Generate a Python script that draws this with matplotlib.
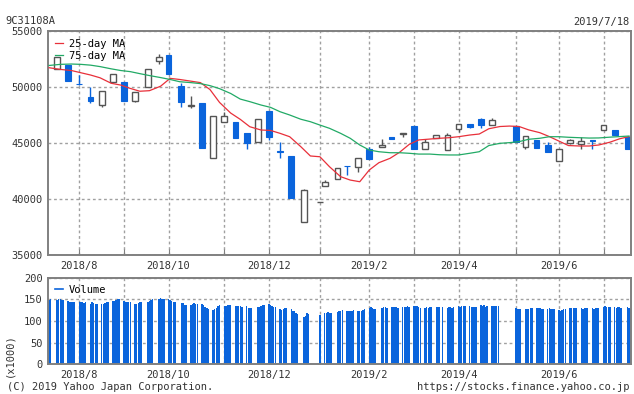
#import modules
import pandas as pd
import numpy as np
import matplotlib
matplotlib.use('Agg')
import matplotlib.pyplot as plt
import matplotlib.dates as mdates
from matplotlib.lines import Line2D

#set the font (narrow mono font like the original)
plt.rcParams['font.family'] = 'DejaVu Sans Mono'
plt.rcParams['font.size'] = 7.5

#market holidays (no trading, no bars)
holidays = ['2018-09-17', '2018-09-24', '2018-10-08', '2018-11-23', '2018-12-24',
            '2018-12-31', '2019-01-01', '2019-01-02', '2019-01-03', '2019-01-14',
            '2019-02-11', '2019-03-21', '2019-04-29', '2019-04-30', '2019-05-01',
            '2019-05-02', '2019-05-03', '2019-05-06', '2019-07-15']

#daily volume (x1000), one row per week
volume_weeks = [
    [149, 150],
    [148, 150, 150, 149, 148], [147, 145, 143, 143, 143], [143, 143, 143, 142, 143],
    [140, 143, 141, 140, 140], [139, 140, 141, 143, 145], [147, 147, 148, 150, 150],
    [147, 145, 144, 143, 143], [140, 140, 141, 143, 143], [145, 147, 149, 150],
    [151, 153, 150, 150], [150, 149, 147, 145, 144], [142, 142, 137, 137],
    [137, 139, 141, 139, 139], [139, 137, 133, 130, 128], [126, 128, 131, 135, 137],
    [135, 135, 136, 137, 137], [135, 135, 135, 134, 133], [134, 131, 131, 131],
    [133, 133, 135, 137, 137], [139, 137, 135, 133, 133], [128, 126, 128, 131, 130],
    [128, 123, 122, 119, 116], [110, 112, 118, 116], [114],
    [119, 118, 120, 119, 119], [121, 123, 123, 126], [124, 122, 122, 124, 126],
    [124, 124, 123, 126, 128], [131, 132, 130, 128, 127], [131, 132, 132, 130],
    [132, 132, 132, 132, 131], [132, 132, 132, 134, 133], [135, 135, 134, 133, 131],
    [131, 132, 131, 133, 133], [133, 133, 133, 133], [131, 133, 133, 131, 132],
    [134, 133, 134, 135, 135], [135, 133, 133, 133, 133], [138, 135, 138, 133, 135],
    [135, 135, 135, 135, 135], [131, 128, 127, 127], [127, 127, 128, 129, 130],
    [130, 129, 129, 127, 127], [128, 129, 128, 127, 127], [126, 124, 125, 127, 128],
    [129, 129, 129, 129, 129], [129, 127, 129, 129, 129], [129, 128, 129, 129, 129],
    [133, 134, 132, 132, 132], [132, 130, 132, 132, 131], [132, 130, 128],
]

#weekly candles (from week of 2018/7/23)
opens = np.array([51600, 52000, 50320, 49100, 48400, 50450, 50450, 48800, 50050, 52320,
                  52880, 50120, 48330, 48620, 43710, 46930, 46900, 45920, 45140, 47880,
                  44300, 43870, 37950, 39730, 41210, 41840, 42970, 42860, 44520, 44640,
                  45540, 45810, 46540, 44520, 45470, 44430, 46300, 46720, 47140, 46610,
                  46540, 44700, 45270, 44820, 43450, 45050, 44960, 45270, 46160, 46160,
                  45560])
highs = np.array([52680, 52000, 51100, 50000, 49670, 51190, 50450, 49600, 51600, 52970,
                  52880, 50410, 49220, 48620, 47440, 47820, 46900, 45920, 47170, 47880,
                  45090, 43870, 40920, 39730, 41750, 42800, 42970, 43660, 44700, 45360,
                  45540, 45890, 46540, 45360, 45710, 45950, 46700, 46720, 47260, 47260,
                  46540, 45630, 45270, 45090, 44460, 45410, 45540, 45270, 46610, 46160,
                  45560])
lows = np.array([51600, 50590, 50220, 48630, 48270, 50450, 48800, 48690, 50050, 52080,
                 51160, 48270, 48130, 44550, 43710, 46930, 45500, 44520, 45140, 45300,
                 43710, 40140, 37950, 39730, 41210, 41840, 42170, 42460, 43620, 44640,
                 45360, 45540, 44490, 44520, 45470, 44430, 46040, 46390, 46390, 46610,
                 45090, 44460, 44610, 44250, 43450, 44910, 44460, 44460, 46160, 45770,
                 44520])
closes = np.array([52680, 50590, 50280, 48750, 49670, 51190, 48800, 49600, 51600, 52680,
                   51160, 48710, 48380, 44550, 47440, 47440, 45500, 45050, 47170, 45590,
                   44200, 40140, 40800, 39730, 41570, 42800, 42950, 43660, 43620, 44820,
                   45360, 45890, 44490, 45090, 45710, 45740, 46700, 46480, 46660, 47050,
                   45090, 45630, 44610, 44250, 44460, 45270, 45180, 45230, 46610, 45770,
                   44520])

#moving averages
ma_dates = ['2018-07-18', '2018-07-25', '2018-08-01', '2018-08-07', '2018-08-13', '2018-08-19',
            '2018-08-26', '2018-09-01', '2018-09-07', '2018-09-13', '2018-09-19', '2018-09-26',
            '2018-10-02', '2018-10-08', '2018-10-15', '2018-10-21', '2018-10-27', '2018-11-02',
            '2018-11-09', '2018-11-15', '2018-11-21', '2018-11-28', '2018-12-04', '2018-12-10',
            '2018-12-16', '2018-12-23', '2018-12-29', '2019-01-04', '2019-01-10', '2019-01-17',
            '2019-01-23', '2019-01-29', '2019-02-04', '2019-02-10', '2019-02-17', '2019-02-23',
            '2019-03-01', '2019-03-07', '2019-03-14', '2019-03-20', '2019-03-26', '2019-04-01',
            '2019-04-08', '2019-04-14', '2019-04-20', '2019-04-27', '2019-05-03', '2019-05-09',
            '2019-05-15', '2019-05-22', '2019-05-28', '2019-06-03', '2019-06-09', '2019-06-16',
            '2019-06-22', '2019-06-28', '2019-07-05', '2019-07-11', '2019-07-17']
ma25 = [51750, 51600, 51500, 51300, 51100, 50850, 50360, 50200, 49900, 49650,
        49700, 50100, 50800, 50700, 50550, 50420, 49800, 48650, 47700, 47140,
        46480, 46190, 46150, 45890, 45590, 44700, 43870, 43800, 42910, 42020,
        41720, 41570, 42620, 43270, 43660, 44200, 44900, 45300, 45380, 45450,
        45500, 45590, 45740, 45830, 46300, 46500, 46540, 46500, 46200, 45950,
        45600, 45200, 44800, 44760, 44760, 44850, 45100, 45400, 45600]
ma75 = [51950, 52050, 52080, 52050, 51980, 51850, 51650, 51500, 51400, 51220,
        51050, 50870, 50700, 50500, 50420, 50330, 50150, 49880, 49450, 48950,
        48720, 48420, 48210, 47820, 47530, 47150, 46930, 46630, 46340, 45890,
        45450, 44850, 44400, 44250, 44160, 44160, 44110, 44040, 44040, 43980,
        43960, 43960, 44110, 44250, 44800, 45000, 45060, 45150, 45360, 45450,
        45590, 45590, 45540, 45500, 45470, 45480, 45550, 45600, 45650]

#colours
blue = '#0a64dc'
gray = '#555555'
frame = '#808080'
gridc = '#a0a0a0'
textc = '#333333'

#trading calendar grouped by week
days = pd.bdate_range('2018-07-18', '2019-07-18')
days = days[~days.isin(pd.to_datetime(holidays))]
week_key = days - pd.to_timedelta(days.weekday, unit='D')
weeks = [days[week_key == k] for k in week_key.unique()]

vol_dates = []
vol_vals = []
for wk, vals in zip(weeks, volume_weeks):
    for d, v in zip(wk, vals):
        vol_dates.append(d)
        vol_vals.append(v)

#candles sit on the first trading day of each week
candle_dates = [wk[0] for wk in weeks[1:]][:len(opens)]
cx = mdates.date2num(candle_dates)

#month ticks = first candle of each new month
month_ticks = []
month_labels = []
prev = candle_dates[0].month
for d in candle_dates:
    if d.month != prev:
        month_ticks.append(mdates.date2num(d))
        month_labels.append(f'{d.year}/{d.month}' if d.month % 2 == 0 else '')
    prev = d.month

xlim = (mdates.date2num(pd.Timestamp('2018-07-17 03:00')),
        mdates.date2num(pd.Timestamp('2019-07-18 10:00')))

fig = plt.figure(figsize=(6.34, 3.94), dpi=100)
ax1 = fig.add_axes([0.0752, 0.352, 0.9205, 0.5685])
ax2 = fig.add_axes([0.0752, 0.0754, 0.9205, 0.2198])

#price panel
up = closes >= opens
ax1.vlines(cx[up], lows[up], highs[up], color=gray, lw=1, zorder=2)
ax1.vlines(cx[~up], lows[~up], highs[~up], color=blue, lw=1, zorder=2)
ax1.bar(cx[up], (closes - opens)[up], bottom=opens[up], width=3.6,
        facecolor='white', edgecolor=gray, lw=1, zorder=2)
ax1.bar(cx[~up], (opens - closes)[~up], bottom=closes[~up], width=3.6,
        facecolor=blue, edgecolor=blue, lw=0.8, zorder=2)
md = mdates.date2num(pd.to_datetime(ma_dates))
ax1.plot(md, ma25, color='#e8303a', lw=0.9, label='25-day MA', zorder=3)
ax1.plot(md, ma75, color='#22aa66', lw=0.9, label='75-day MA', zorder=3)
ax1.set_ylim(35000, 55000)
ax1.set_yticks(np.arange(35000, 55001, 5000))
ax1.legend(loc='upper left', frameon=False, handlelength=0.8, handletextpad=0.5,
           borderaxespad=0.5, borderpad=0.2, labelspacing=0.2)

#volume panel
ax2.bar(mdates.date2num(vol_dates), vol_vals, width=0.9, color=blue, lw=0,
        antialiased=False, zorder=2)
ax2.set_ylim(0, 200)
ax2.set_yticks([0, 50, 100, 150, 200])
ax2.legend(handles=[Line2D([], [], color=blue, lw=1.2)], labels=['Volume'],
           loc='upper left', frameon=False, handlelength=0.8, handletextpad=0.5,
           borderaxespad=0.5, borderpad=0.2)

for ax in (ax1, ax2):
    ax.set_xlim(xlim)
    ax.set_xticks(month_ticks)
    ax.set_xticklabels(month_labels)
    ax.grid(True, color=gridc, linestyle=(0, (2, 2)), lw=1, zorder=0)
    ax.set_axisbelow(True)
    for s in ax.spines.values():
        s.set_color(frame)
        s.set_linewidth(1.4)
    ax.tick_params(axis='y', length=0, pad=3.5, labelcolor=textc)
    ax.tick_params(axis='x', direction='in', length=4, color=frame, pad=4, labelcolor=textc)

#header and footer texts
W, H = 634.0, 394.0
fig.text(5 / W, 1 - 21.5 / H, '9C31108A', ha='left', va='center', color=textc)
fig.text(630 / W, 1 - 21.5 / H, '2019/7/18', ha='right', va='center', color=textc)
fig.text(7 / W, 1 - 386.5 / H, '(C) 2019 Yahoo Japan Corporation.', ha='left', va='center', color=textc)
fig.text(630 / W, 1 - 386.5 / H, 'https://stocks.finance.yahoo.co.jp', ha='right', va='center', color=textc)
fig.text(9 / W, 1 - 355 / H, '(x1000)', rotation=90, ha='center', va='center', color=textc)

fig.savefig('out.png', dpi=100)
